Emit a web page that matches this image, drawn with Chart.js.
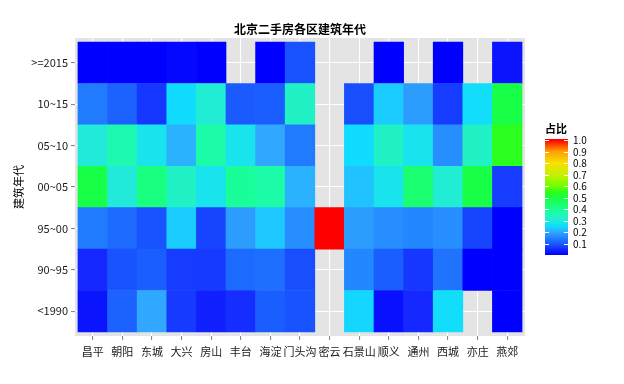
<!DOCTYPE html>
<html>
<head>
<meta charset="utf-8">
<script src="https://cdn.jsdelivr.net/npm/chart.js@4.4.1/dist/chart.umd.min.js"></script>
<style>
html,body{margin:0;padding:0;background:#fff;}
#wrap{width:624px;height:384px;}
</style>
</head>
<body>
<div id="wrap"><canvas id="c" width="624" height="384"></canvas></div>
<script>
// ---- data ----
const districts = ['昌平','朝阳','东城','大兴','房山','丰台','海淀','门头沟','密云','石景山','顺义','通州','西城','亦庄','燕郊'];
const periods = ['<1990','90~95','95~00','00~05','05~10','10~15','>=2015']; // bottom to top
const v_lt1990 = [0.025,0.11,0.2,0.068,0.04,0.055,0.105,0.092,null,0.245,0.02,0.05,0.255,null,0.0];
const v_90_95  = [0.05,0.092,0.105,0.07,0.068,0.12,0.125,0.088,null,0.155,0.105,0.065,0.13,0.0,0.0];
const v_95_00  = [0.14,0.12,0.092,0.235,0.078,0.185,0.23,0.165,1.0,0.185,0.165,0.155,0.165,0.078,0.0];
const v_00_05  = [0.49,0.3,0.42,0.33,0.275,0.39,0.37,0.21,null,0.225,0.275,0.44,0.31,0.49,0.07];
const v_05_10  = [0.3,0.36,0.275,0.21,0.37,0.275,0.2,0.14,null,0.25,0.33,0.275,0.165,0.33,0.54];
const v_10_15  = [0.14,0.11,0.065,0.25,0.31,0.10,0.105,0.33,null,0.088,0.235,0.185,0.07,0.255,0.49];
const v_ge2015 = [0.0,0.0,0.0,0.01,0.0,null,0.0,0.092,null,null,0.0,null,0.0,null,0.025];
const rows = [v_lt1990, v_90_95, v_95_00, v_00_05, v_05_10, v_10_15, v_ge2015];
const legendTicks = [0.1,0.2,0.3,0.4,0.5,0.6,0.7,0.8,0.9,1.0];
const titleText = '北京二手房各区建筑年代';
const yTitle = '建筑年代';
const legendTitle = '占比';

// ---- colour scale (style) ----
const stops = [
 [0.00,'#0000ff'],[0.05,'#1428ff'],[0.10,'#1a5aff'],[0.15,'#2283ff'],[0.20,'#30a8ff'],
 [0.25,'#10dcff'],[0.30,'#22eadb'],[0.35,'#1ef8b8'],[0.40,'#18ff90'],[0.45,'#1aff68'],
 [0.50,'#18ff40'],[0.55,'#30ff18'],[0.60,'#70ff00'],[0.70,'#c8f000'],[0.80,'#f8e000'],
 [0.90,'#ffa000'],[1.00,'#ff0000']
];
function hex(h){return [parseInt(h.substr(1,2),16),parseInt(h.substr(3,2),16),parseInt(h.substr(5,2),16)];}
function colorFor(v){
  if (v<=stops[0][0]) return stops[0][1];
  for (let i=1;i<stops.length;i++){
    if (v<=stops[i][0]){
      const t=(v-stops[i-1][0])/(stops[i][0]-stops[i-1][0]);
      const a=hex(stops[i-1][1]), b=hex(stops[i][1]);
      const c=a.map((x,k)=>Math.round(x+(b[k]-x)*t));
      return 'rgb('+c.join(',')+')';
    }
  }
  return stops[stops.length-1][1];
}

const datasets = rows.map((vals, r) => ({
  label: periods[r],
  data: vals.map((v,i)=> v==null ? null : {x:i+1, y:[r+0.5, r+1.5], v:v}).filter(d=>d),
  backgroundColor: ctx => colorFor(ctx.raw ? ctx.raw.v : 0),
  borderWidth: 0,
  barPercentage: 1,
  categoryPercentage: 1,
  grouped: false
}));

const FONT = '"Noto Sans CJK SC", "Noto Sans", sans-serif';

const bgPlugin = {
  id:'bg',
  beforeDraw(chart){
    const {ctx, chartArea:a} = chart;
    ctx.save(); ctx.fillStyle='#e4e4e4';
    ctx.fillRect(a.left, a.top, a.right-a.left, a.bottom-a.top);
    ctx.restore();
  },
  afterDraw(chart){
    const {ctx, chartArea:a} = chart;
    ctx.save();
    // title
    ctx.fillStyle='#000'; ctx.font='bold 12px '+FONT;
    ctx.textAlign='center'; ctx.textBaseline='middle';
    ctx.fillText(titleText, (a.left+a.right)/2, 29);
    // colourbar
    const x0=545, w=23, yTop=139, yBot=255;
    const v2y = v => yBot - (yBot-140)*v;
    for (let y=yTop; y<yBot; y++){
      const v = (yBot - (y+0.5))/(yBot-140);
      ctx.fillStyle = colorFor(Math.min(1,Math.max(0,v)));
      ctx.fillRect(x0, y, w, 1);
    }
    ctx.strokeStyle='#fff'; ctx.lineWidth=1;
    ctx.font='10px '+FONT; ctx.textAlign='left'; ctx.fillStyle='#000';
    legendTicks.forEach(t=>{
      const y=Math.round(v2y(t))+0.5;
      ctx.beginPath(); ctx.moveTo(x0,y); ctx.lineTo(x0+4,y); ctx.moveTo(x0+w-4,y); ctx.lineTo(x0+w,y); ctx.stroke();
      ctx.fillText(t.toFixed(1), x0+w+5, y);
    });
    ctx.font='bold 11px '+FONT;
    ctx.fillText(legendTitle, x0, 129);
    ctx.restore();
  }
};

new Chart(document.getElementById('c'), {
  type:'bar',
  data:{datasets},
  plugins:[bgPlugin],
  options:{
    responsive:false, animation:false,
    layout:{padding:{top:38,right:99,left:0,bottom:0}},
    plugins:{legend:{display:false}, tooltip:{enabled:false}, title:{display:false}},
    scales:{
      x:{
        type:'linear', min:0.4, max:15.6, offset:false,
        afterBuildTicks: s => { s.ticks = districts.map((_,i)=>({value:i+1})); },
        afterFit: s => { s.height = 48; },
        ticks:{autoSkip:false, maxRotation:0, padding:5, color:'#1a1a1a', font:{family:FONT,size:11},
               callback:(v,i)=>districts[i]},
        grid:{offset:false, color:'#ffffff', lineWidth:1.1, tickColor:'#8a8a8a', tickLength:4},
        border:{display:false}
      },
      y:{
        type:'linear', min:0.4, max:7.6, offset:false,
        afterBuildTicks: s => { s.ticks = periods.map((_,i)=>({value:i+1})); },
        afterFit: s => { s.width = 75; },
        ticks:{autoSkip:false, padding:3, color:'#1a1a1a', font:{family:FONT,size:11},
               callback:(v,i)=>periods[i]},
        grid:{offset:false, color:'#ffffff', lineWidth:1.1, tickColor:'#8a8a8a', tickLength:4},
        border:{display:false},
        title:{display:true, text:yTitle, color:'#000', font:{family:FONT,size:11}, padding:{top:12,bottom:0}}
      }
    }
  }
});
</script>
</body>
</html>
